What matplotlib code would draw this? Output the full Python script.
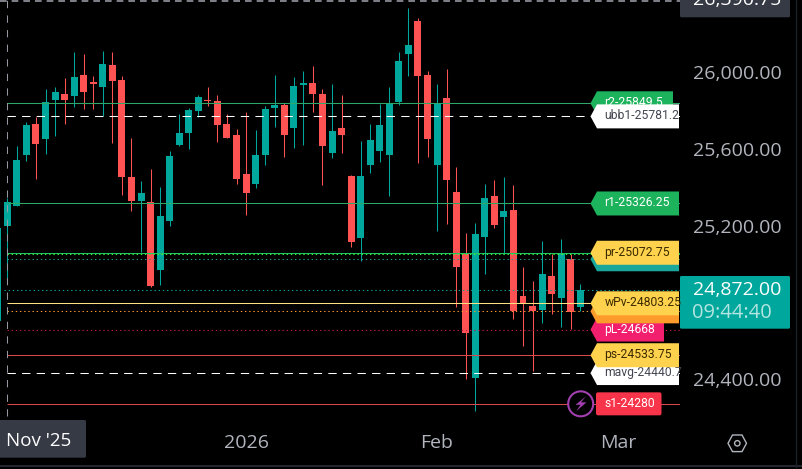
import matplotlib
matplotlib.use("Agg")
from matplotlib import pyplot as plt
from matplotlib import transforms
from matplotlib.patches import Polygon, Rectangle, Circle, FancyBboxPatch

# candles, oldest first (first one is cut by the left edge)
opens = [24714, 25209, 25313, 25579, 25741, 25663, 25867, 25898, 25888, 25997, 25961, 25935, 26049, 25971, 25465, 25339, 25334, 24979, 25235, 25632, 25694, 25809, 25867, 25861, 25741, 25684, 25480, 25428, 25579, 25825, 25841, 25720, 25945, 25956, 25898, 25590, 25720, 25470, 25146, 25527, 25600, 25579, 25856, 26107, 26279, 25997, 25527, 25877, 25386, 25062, 24415, 25151, 25365, 25256, 25292, 24843, 24791, 24770, 24948, 24833, 25036, 24786]
highs = [25196, 25353, 25626, 25754, 25780, 25924, 25935, 25982, 26117, 26107, 25992, 26123, 26117, 25992, 25668, 25444, 25506, 25412, 25600, 25794, 25825, 25893, 25935, 25893, 25794, 25715, 25804, 25710, 25835, 25997, 25851, 25987, 26018, 26044, 25924, 25950, 25893, 25475, 25653, 25741, 25846, 25935, 26117, 26347, 26295, 26018, 25950, 26029, 25517, 25172, 25224, 25428, 25449, 25465, 25423, 24995, 24921, 25130, 25061, 25141, 25062, 24906]
lows = [24714, 24927, 25313, 25548, 25454, 25585, 25679, 25741, 25830, 25820, 25820, 25783, 25642, 25371, 25287, 25073, 24888, 24900, 25209, 25626, 25611, 25778, 25835, 25647, 25668, 25428, 25266, 25407, 25527, 25726, 25569, 25616, 25632, 25804, 25423, 25564, 25590, 25099, 25026, 25485, 25543, 25365, 25841, 25992, 25538, 25569, 25183, 25219, 24786, 24410, 24243, 24958, 25198, 25061, 24723, 24582, 24451, 24702, 24749, 24681, 24669, 24763]
closes = [25196, 25334, 25553, 25736, 25637, 25856, 25908, 25867, 25987, 25908, 25950, 26055, 25966, 25465, 25339, 25381, 24895, 25261, 25574, 25694, 25814, 25882, 25861, 25736, 25668, 25454, 25381, 25579, 25820, 25841, 25684, 25940, 25956, 25898, 25626, 25705, 25684, 25125, 25470, 25658, 25736, 25849, 26070, 26154, 25992, 25663, 25849, 25449, 24995, 24650, 25167, 25355, 25214, 25287, 24763, 24801, 24763, 24958, 24854, 25069, 24760, 24874]

# right hand price labels
level_names = ["pL-24668", "s1-24280", "mavg-24440.7", "ps-24533.75", "", "", "wPv-24803.25", "", "pr-25072.75", "r1-25326.25", "r2-25849.5", "ubb1-25781.2"]
level_values = [24668, 24280, 24440.7, 24533.75, 24763, 24763, 24803.25, 25035, 25072.75, 25326.25, 25849.5, 25781.2]

price_ticks = [24400, 25200, 25600, 26000]
price_tick_labels = ["24,400.00", "25,200.00", "25,600.00", "26,000.00"]
time_ticks = [25, 45, 64]
time_tick_labels = ["2026", "Feb", "Mar"]
last_price = 24872
crosshair_price = 26390.75

W, H = 802, 469
TEAL = "#00a79c"
RED = "#ff5252"
FONT = ["Open Sans", "DejaVu Sans"]
TAGFONT = ["Roboto", "DejaVu Sans"]
TAGSIZE = 8.7

fig = plt.figure(figsize=(W / 100, H / 100), dpi=100, facecolor="black")
# plot area is 680x420 px from the top left corner
ax = fig.add_axes([0, 1 - 420 / H, 680 / W, 420 / H], facecolor="black")
ax.set_xlim(-0.768, 70.44)
ax.set_ylim(24195.5, 26389)
for s in ax.spines.values():
    s.set_visible(False)

# candles
for i in range(len(opens)):
    x = i - 1
    col = TEAL if closes[i] >= opens[i] else RED
    ax.vlines(x, lows[i], highs[i], color=col, lw=0.75, zorder=3, snap=True)
    ax.bar(x, abs(closes[i] - opens[i]), bottom=min(opens[i], closes[i]), width=0.73, color=col, zorder=3)


def level(price, col, ls="-", start=0):
    ax.hlines(price, start, 70.44, color=col, lw=0.75, ls=ls, zorder=4, snap=True)


dots = (0, (1.3, 2.7))
dash = (0, (8, 6))
# levels
level(25849.5, "#2ea866")
level(25781.2, "white", dash)
level(25326.25, "#2ea866")
level(25069, "#22c55e")
level(25060, "#39ff3a", dots)
level(25035, "#1f9f98", dots)
level(last_price, TEAL, dots, -0.4)
level(24805, "#ffe082")
level(24763, "#ff9a2e", dots)
level(24668, "#c2185b", dots)
level(24533.75, "#d84a4f")
level(24440.7, "white", dash)
level(24280, "#d84a4f")

# crosshair
ax.vlines(0, 24215, 26389, color="#9598a1", lw=0.75, ls=(0, (7, 7)), zorder=5, snap=True)
ax.axhline(crosshair_price - 6, color="#9598a1", lw=1.2, ls=(0, (4, 3)), zorder=5)

# axes text
ax.yaxis.tick_right()
ax.set_yticks(price_ticks, price_tick_labels, family=FONT, fontsize=14, color="#b2b5be")
ax.set_xticks(time_ticks, time_tick_labels, family=FONT, fontsize=14, color="#b2b5be")
ax.tick_params(axis="both", length=0)
ax.tick_params(axis="y", pad=9)
ax.tick_params(axis="x", pad=10)
lift = transforms.ScaledTranslation(0, 0.02, fig.dpi_scale_trans)
for lab in ax.get_yticklabels():
    lab.set_transform(lab.get_transform() + lift)

# pixel layer for price labels and boxes
ui = fig.add_axes([0, 0, 1, 1], facecolor="none", zorder=10)
ui.set_xlim(0, W)
ui.set_ylim(H, 0)
ui.axis("off")


def py(price):
    return ui.transData.inverted().transform(ax.transData.transform((0, price)))[1]


def tag(name, price, col, txtcol, right=679, z=1):
    y = py(price)
    ui.add_patch(Polygon([(590.5, y), (597, y - 12), (right, y - 12), (right, y + 12), (597, y + 12)],
                         closed=True, fc=col, ec="none", zorder=z))
    if name:
        t = ui.text(604.5, y - 0.5, name, color=txtcol, fontsize=TAGSIZE, family=TAGFONT, va="center", ha="left", zorder=z)
        t.set_clip_path(Rectangle((590, y - 12), right - 590, 24, transform=ui.transData))


tag(level_names[10], level_values[10], "#1db35c", "white", right=673, z=1)
tag(level_names[11], level_values[11], "white", "#434651", z=2)
tag(level_names[9], level_values[9], "#1db35c", "white", z=1)
tag(level_names[7], level_values[7], "#1aa79b", "white", z=1)
tag(level_names[8], 25069, "#ffd24d", "#3a2a00", z=3)
tag(level_names[0], level_values[0], "#f21f6f", "white", right=664, z=1)
tag(level_names[4], level_values[4], "#ff9b2b", "white", z=2)
tag(level_names[6], 24805, "#ffd24d", "#3a2a00", z=3)
tag(level_names[2], level_values[2], "white", "#434651", z=1)
tag(level_names[3], level_values[3], "#ffd24d", "#3a2a00", z=2)

# s1 label has no visible tip, the bolt circle sits on it
y = py(24280)
ui.add_patch(FancyBboxPatch((596, y - 11.5), 65.5, 23, boxstyle="round,pad=0,rounding_size=2", fc="#f7344a", ec="none", zorder=1))
ui.text(604.5, y - 0.5, level_names[1], color="white", fontsize=TAGSIZE, family=TAGFONT, va="center", zorder=2)
ui.add_patch(Circle((580.7, y), 12.5, fc="black", ec="#a33fb0", lw=1.5, zorder=3))
ui.add_patch(Polygon([(586, y - 7.5), (575.5, y + 1), (580.5, y + 1), (576, y + 7.5), (586.5, y - 1.5), (581, y - 1.5)],
                     closed=True, fc="#a33fb0", ec="none", zorder=4))

# right scale boxes
ui.add_patch(FancyBboxPatch((680, -5), 110, 22.3, boxstyle="round,pad=0,rounding_size=1.5", fc="#363a45", ec="none", zorder=1))
ui.text(737, 0, "26,390.75", color="white", fontsize=14, family=FONT, ha="center", va="center", zorder=2, clip_on=True)
ui.add_patch(FancyBboxPatch((680, 276), 110, 52.7, boxstyle="round,pad=0,rounding_size=1.5", fc=TEAL, ec="none", zorder=1))
ui.text(737, 290, "24,872.00", color="white", fontsize=14, family=FONT, ha="center", va="center", zorder=2)
ui.text(732, 313, "09:44:40", color="#b3e5e1", fontsize=14.5, family=FONT, ha="center", va="center", zorder=2)

# bottom scale
ui.add_patch(FancyBboxPatch((-3, 420), 89, 37.7, boxstyle="round,pad=0,rounding_size=1.5", fc="#363a45", ec="none", zorder=1))
ui.text(39, 441, "Nov '25", color="white", fontsize=13.5, family=FONT, ha="center", va="center", zorder=2)
ui.add_patch(Polygon([(728, 443.3), (732.5, 435), (742, 435), (746.5, 443.3), (742, 451.6), (732.5, 451.6)],
                     closed=True, fc="none", ec="#b2b5be", lw=1, zorder=2))
ui.add_patch(Circle((737.3, 443.3), 2.7, fc="none", ec="#b2b5be", lw=1, zorder=2))
ui.plot([0, W], [466.5, 466.5], color="#2a2e39", lw=1.2, zorder=2)
ui.plot([796, 796], [0, 467], color="#1c1f26", lw=1, zorder=2)

fig.savefig("out.png", dpi=100, facecolor="black")
